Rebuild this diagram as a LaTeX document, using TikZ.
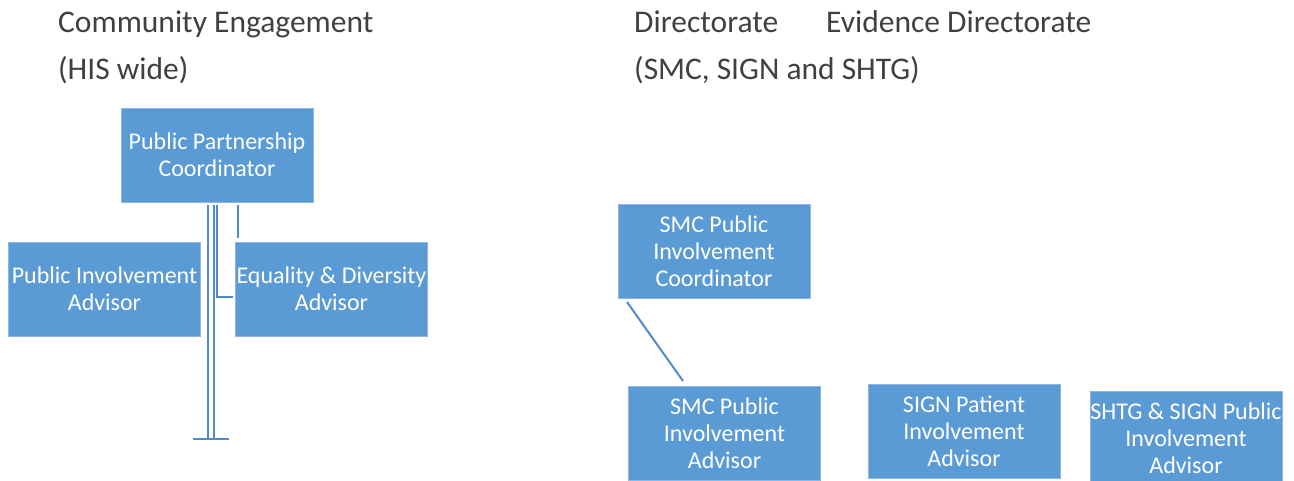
\documentclass[tikz,border=0pt]{standalone}
\usepackage{fontspec}
\setmainfont{Carlito}
\definecolor{boxblue}{HTML}{5B9BD5}
\definecolor{boxedge}{HTML}{8DB6E2}
\definecolor{lineblue}{HTML}{4F8CC9}
\definecolor{titlegray}{HTML}{404040}
\begin{document}
\begin{tikzpicture}[x=1pt,y=-1pt,
  orgbox/.style={draw=boxedge,line width=0.8pt,fill=boxblue,text=white,
    minimum width=192pt,minimum height=94pt,inner sep=0pt,align=center,
    font=\fontsize{24}{26.8}\selectfont},
  title/.style={anchor=base west,inner sep=0pt,text=titlegray,
    font=\fontsize{31.5}{36}\selectfont},
  conn/.style={draw=lineblue,line width=2pt}]
\useasboundingbox (0,0) rectangle (1294,481);
\clip (0,0) rectangle (1294,481);
% titles
\node[title] (t1) at (58,33) {Community Engagement};
\node[title] (t2) at (58,80) {(HIS wide)};
\node[title] (t3) at (634,33) {Directorate};
\node[title] (t4) at (826,33) {Evidence Directorate};
\node[title] (t5) at (634,80) {(SMC, SIGN and SHTG)};
% boxes
\node[orgbox] (ppc) at (217,155) {Public Partnership\\Coordinator};
\node[orgbox] (pia) at (104.5,289) {Public Involvement\\Advisor};
\node[orgbox] (eda) at (331.5,289) {Equality \& Diversity\\Advisor};
\node[orgbox] (smcc) at (714,251) {SMC Public\\Involvement\\Coordinator};
\node[orgbox] (smca) at (724.5,433) {SMC Public\\Involvement\\Advisor};
\node[orgbox] (sign) at (964,431) {SIGN Patient\\Involvement\\Advisor};
\node[orgbox] (shtg) at (1186,438) {SHTG \& SIGN Public\\Involvement\\Advisor};
% left connectors
\coordinate (a1) at (207.5,205);
\coordinate (a2) at (207.5,439);
\coordinate (b1) at (213.5,205);
\coordinate (b2) at (213.5,439);
\coordinate (c1) at (216.5,205);
\coordinate (c2) at (216.5,297);
\coordinate (c3) at (233,297);
\coordinate (d1) at (238,205);
\coordinate (d2) at (238,238);
\coordinate (e1) at (193,439);
\coordinate (e2) at (229,439);
\draw[conn] (a1) -- (a2);
\draw[conn] (b1) -- (b2);
\draw[conn] (c1) -- (c2) -- (c3);
\draw[conn] (d1) -- (d2);
\draw[conn] (e1) -- (e2);
% right connector
\coordinate (f1) at (627,302);
\coordinate (f2) at (683,381);
\draw[conn] (f1) -- (f2);
\end{tikzpicture}
\end{document}
